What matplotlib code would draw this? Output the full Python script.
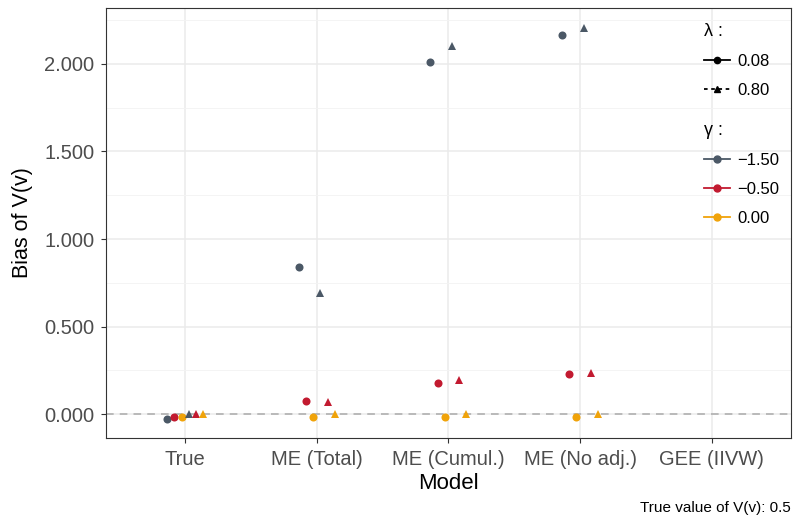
import numpy as np
import matplotlib.pyplot as plt
from matplotlib.lines import Line2D

plt.rcParams['font.family'] = ['Liberation Sans', 'DejaVu Sans']

# Datos
models = ['True', 'ME (Total)', 'ME (Cumul.)', 'ME (No adj.)', 'GEE (IIVW)']
gammas = ['\u22121.50', '\u22120.50', '0.00']
lambdas = ['0.08', '0.80']
colors = ['#4B5866', '#C21A30', '#F0A30A']

# bias[lambda][gamma] por modelo (GEE sin valores)
bias_l008_gm150 = [-0.030, 0.843, 2.010, 2.166, np.nan]
bias_l008_gm050 = [-0.013, 0.076, 0.180, 0.228, np.nan]
bias_l008_g000 = [-0.013, -0.015, -0.013, -0.013, np.nan]
bias_l080_gm150 = [0.003, 0.690, 2.104, 2.204, np.nan]
bias_l080_gm050 = [0.004, 0.068, 0.197, 0.233, np.nan]
bias_l080_g000 = [0.004, 0.002, 0.002, 0.002, np.nan]
err_l008 = [0.004, 0.008, 0.012, 0.012, np.nan]
err_l080 = [0.003, 0.004, 0.006, 0.006, np.nan]

series = [
    (bias_l008_gm150, err_l008, 0, 'o'),
    (bias_l008_gm050, err_l008, 1, 'o'),
    (bias_l008_g000, err_l008, 2, 'o'),
    (bias_l080_gm150, err_l080, 0, '^'),
    (bias_l080_gm050, err_l080, 1, '^'),
    (bias_l080_g000, err_l080, 2, '^'),
]
offsets = [-0.137, -0.082, -0.027, 0.027, 0.082, 0.137]

fig = plt.figure(figsize=(7.93, 5.18), dpi=100)
ax = fig.add_axes([0.134, 0.154, 0.863, 0.831])

x = np.arange(1, len(models) + 1)
for (vals, err, gi, mk), off in zip(series, offsets):
    ax.errorbar(x + off, vals, yerr=err, fmt=mk, color=colors[gi], ms=5.8,
                elinewidth=1.2, capsize=2.5, mew=0, zorder=3)

ax.axhline(0, color='#AAAAAA', ls=(0, (5, 4)), lw=1.1, zorder=2)

ax.set_xlim(0.4, 5.6)
ax.set_ylim(-0.137, 2.32)
ax.set_xticks(x)
ax.set_xticklabels(models)
yt = np.arange(0, 2.01, 0.5)
ax.set_yticks(yt)
ax.set_yticklabels([f'{v:,.3f}' for v in yt])
ax.set_yticks(np.arange(0.25, 2.3, 0.5), minor=True)
ax.tick_params(axis='both', labelsize=14.5, colors='#333333', labelcolor='#4D4D4D',
               length=3.5, width=0.8, pad=5)
ax.tick_params(axis='y', which='minor', length=0)
ax.grid(True, which='major', color='#EBEBEB', lw=1.1, zorder=0)
ax.grid(True, which='minor', axis='y', color='#F3F3F3', lw=0.6, zorder=0)
ax.set_axisbelow(True)
for s in ax.spines.values():
    s.set_color('#333333')
    s.set_linewidth(0.8)

ax.set_xlabel('Model', fontsize=16, labelpad=3)
ax.set_ylabel('Bias of V(v)', fontsize=15.5, labelpad=8)

# leyendas
h_lam = [Line2D([], [], color='black', marker='o', ms=4.5, lw=1.3, ls='-'),
         Line2D([], [], color='black', marker='^', ms=5, lw=1.3, ls=(0, (2, 2)))]
h_gam = [Line2D([], [], color=c, marker='o', ms=5, lw=1.3) for c in colors]
leg1 = ax.legend(h_lam, lambdas, title='\u03bb :', loc='upper left',
                 bbox_to_anchor=(0.852, 1.0), frameon=False, fontsize=12,
                 title_fontsize=13, labelspacing=0.85, handlelength=1.55,
                 handletextpad=0.45, alignment='left')
ax.add_artist(leg1)
ax.legend(h_gam, gammas, title='\u03b3 :', loc='upper left',
          bbox_to_anchor=(0.852, 0.77), frameon=False, fontsize=12,
          title_fontsize=13, labelspacing=0.85, handlelength=1.55,
          handletextpad=0.45, alignment='left')

fig.text(0.997, 0.006, 'True value of V(v): 0.5', ha='right', va='bottom', fontsize=11)

plt.savefig('out.png', dpi=100)
